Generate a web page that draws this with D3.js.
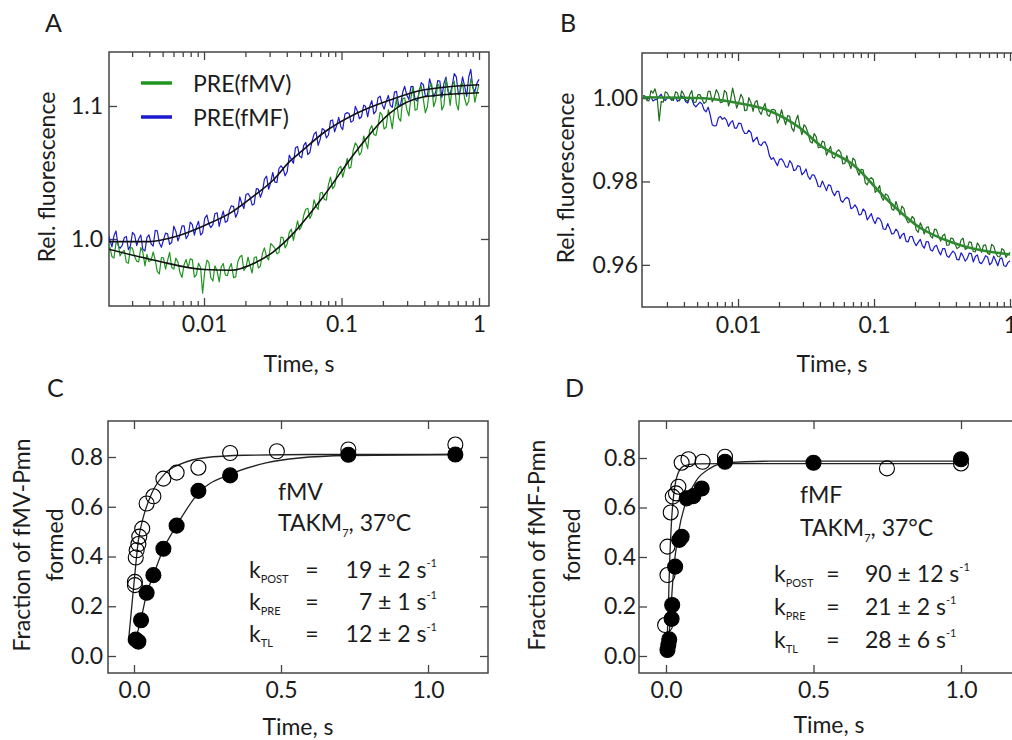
<!DOCTYPE html>
<html>
<head>
<meta charset="utf-8">
<script src="https://cdnjs.cloudflare.com/ajax/libs/d3/7.8.5/d3.min.js"></script>
<style>
  body { margin: 0; background: #fff; }
  svg { font-family: Lato, "Open Sans", sans-serif; }
  .axis path.domain { display: none; }
  .axis line { stroke: #444; stroke-width: 1.3; }
  .axis text { font-family: Lato, "Open Sans", sans-serif; font-size: 23px; fill: #1c1c1c; }
  .lbl { font-size: 23px; fill: #1c1c1c; }
</style>
</head>
<body>
<div id="fig"></div>
<script>
// sampling times of the stopped-flow traces, s (panels A and B)
let traceTimes = [
  0.0020, 0.002065, 0.00214, 0.002213, 0.00229, 0.002371, 0.00245, 0.002541, 0.00263, 0.002723,
  0.00282, 0.002917, 0.00302, 0.003126, 0.00324, 0.00335, 0.00347, 0.003589, 0.00372, 0.003846,
  0.00398, 0.004121, 0.00427, 0.004416, 0.00457, 0.004732, 0.0049, 0.00507, 0.00525, 0.005433,
  0.00562, 0.005821, 0.00603, 0.006237, 0.00646, 0.006683, 0.00692, 0.007161, 0.00741, 0.007674,
  0.00794, 0.008222, 0.00851, 0.00881, 0.00912, 0.009441, 0.00977, 0.01012, 0.0105, 0.01084,
  0.0112, 0.01161, 0.0120, 0.01245, 0.0129, 0.01334, 0.0138, 0.01429, 0.0148, 0.01531,
  0.0158, 0.01641, 0.0170, 0.01758, 0.0182, 0.01884, 0.0195, 0.02018, 0.0209, 0.02163,
  0.0224, 0.02317, 0.0240, 0.02483, 0.0257, 0.02661, 0.0275, 0.02851, 0.0295, 0.03055,
  0.0316, 0.03273, 0.0339, 0.03508, 0.0363, 0.03758, 0.0389, 0.04027, 0.0417, 0.04315,
  0.0447, 0.04624, 0.0479, 0.04955, 0.0513, 0.05309, 0.0550, 0.05689, 0.0589, 0.06095,
  0.0631, 0.06531, 0.0676, 0.06998, 0.0724, 0.07499, 0.0776, 0.08035, 0.0832, 0.0861,
  0.0891, 0.09226, 0.0955, 0.09886, 0.102, 0.1059, 0.110, 0.1135, 0.117, 0.1216,
  0.126, 0.1303, 0.135, 0.1396, 0.145, 0.1496, 0.155, 0.1603, 0.166, 0.1718,
  0.178, 0.1841, 0.191, 0.1972, 0.204, 0.2113, 0.219, 0.2265, 0.234, 0.2427,
  0.251, 0.260, 0.269, 0.2786, 0.288, 0.2985, 0.309, 0.3199, 0.331, 0.3428,
  0.355, 0.3673, 0.380, 0.3936, 0.407, 0.4217, 0.437, 0.4519, 0.468, 0.4842,
  0.501, 0.5188, 0.537, 0.5559, 0.575, 0.5957, 0.617, 0.6383, 0.661, 0.6839,
  0.708, 0.7328, 0.759, 0.7852, 0.813, 0.8414, 0.871, 0.9016, 0.933, 0.9661,
  1.0
];

// A: PRE(fMV), green
let greenA = [
  0.9965, 0.9938, 0.9868, 0.9856, 0.9970, 0.9971, 0.9873, 0.9901, 0.9915, 0.9825,
  0.9818, 0.9937, 0.9930, 0.9868, 0.9833, 0.9828, 0.9935, 0.9902, 0.9798, 0.9884,
  0.9830, 0.9838, 0.9902, 0.9843, 0.9756, 0.9738, 0.9860, 0.9859, 0.9774, 0.9837,
  0.9899, 0.9787, 0.9773, 0.9856, 0.9827, 0.9748, 0.9711, 0.9806, 0.9845, 0.9785,
  0.9850, 0.9845, 0.9713, 0.9731, 0.9818, 0.9785, 0.9592, 0.9757, 0.9840, 0.9824,
  0.9709, 0.9684, 0.9798, 0.9759, 0.9677, 0.9789, 0.9816, 0.9729, 0.9725, 0.9784,
  0.9815, 0.9709, 0.9715, 0.9825, 0.9864, 0.9877, 0.9764, 0.9786, 0.9864, 0.9797,
  0.9744, 0.9861, 0.9866, 0.9782, 0.9795, 0.9892, 0.9933, 0.9867, 0.9842, 0.9966,
  0.9950, 0.9931, 0.9888, 0.9898, 1.0015, 1.0010, 0.9933, 0.9962, 1.0050, 1.0074,
  0.9989, 1.0063, 1.0137, 1.0069, 1.0096, 1.0178, 1.0224, 1.0231, 1.0153, 1.0188,
  1.0295, 1.0247, 1.0222, 1.0346, 1.0350, 1.0297, 1.0292, 1.0409, 1.0465, 1.0378,
  1.0398, 1.0483, 1.0531, 1.0546, 1.0464, 1.0529, 1.0606, 1.0531, 1.0539, 1.0667,
  1.0722, 1.0700, 1.0630, 1.0654, 1.0774, 1.0733, 1.0679, 1.0820, 1.0853, 1.0786,
  1.0778, 1.0848, 1.0953, 1.0932, 1.0827, 1.0840, 1.0972, 1.0913, 1.0830, 1.0971,
  1.1051, 1.0909, 1.0886, 1.1054, 1.1061, 1.0974, 1.0926, 1.1064, 1.1141, 1.0969,
  1.0976, 1.1124, 1.1151, 1.1050, 1.0949, 1.0996, 1.1142, 1.1169, 1.0995, 1.1041,
  1.1167, 1.1139, 1.0970, 1.1006, 1.1202, 1.1123, 1.1004, 1.1146, 1.1187, 1.1018,
  1.0969, 1.1160, 1.1171, 1.1058, 1.1004, 1.1035, 1.1206, 1.1157, 1.1028, 1.1104,
  1.1160
];
// A: PRE(fMF), blue
let blueA = [
  1.0040, 0.9996, 0.9940, 1.0024, 1.0060, 0.9953, 0.9930, 0.9952, 1.0010, 1.0019,
  0.9920, 0.9949, 1.0050, 1.0030, 0.9950, 1.0002, 1.0030, 0.9922, 0.9910, 1.0012,
  1.0030, 0.9964, 0.9946, 1.0064, 1.0062, 0.9970, 0.9938, 0.9991, 1.0044, 1.0038,
  0.9960, 0.9974, 1.0096, 1.0059, 0.9985, 1.0030, 1.0099, 1.0099, 1.0002, 1.0028,
  1.0126, 1.0108, 1.0029, 1.0093, 1.0133, 1.0030, 1.0046, 1.0155, 1.0180, 1.0115,
  1.0085, 1.0108, 1.0190, 1.0197, 1.0095, 1.0159, 1.0210, 1.0125, 1.0135, 1.0217,
  1.0250, 1.0243, 1.0163, 1.0198, 1.0316, 1.0267, 1.0229, 1.0334, 1.0342, 1.0317,
  1.0255, 1.0263, 1.0378, 1.0376, 1.0313, 1.0357, 1.0449, 1.0472, 1.0374, 1.0425,
  1.0500, 1.0427, 1.0425, 1.0530, 1.0550, 1.0531, 1.0475, 1.0505, 1.0630, 1.0600,
  1.0569, 1.0686, 1.0695, 1.0623, 1.0610, 1.0704, 1.0726, 1.0635, 1.0652, 1.0732,
  1.0788, 1.0806, 1.0704, 1.0749, 1.0830, 1.0819, 1.0760, 1.0782, 1.0888, 1.0895,
  1.0806, 1.0854, 1.0914, 1.0844, 1.0822, 1.0940, 1.0950, 1.0944, 1.0878, 1.0890,
  1.0997, 1.0963, 1.0904, 1.0919, 1.1006, 1.0998, 1.0918, 1.0997, 1.1040, 1.0941,
  1.0962, 1.1060, 1.1074, 1.1014, 1.0977, 1.1034, 1.1079, 1.1005, 1.0990, 1.1104,
  1.1110, 1.1006, 1.1009, 1.1103, 1.1148, 1.1080, 1.1048, 1.1146, 1.1147, 1.1050,
  1.1037, 1.1107, 1.1176, 1.1160, 1.1072, 1.1079, 1.1205, 1.1149, 1.1068, 1.1106,
  1.1191, 1.1188, 1.1064, 1.1171, 1.1217, 1.1106, 1.1090, 1.1155, 1.1243, 1.1219,
  1.1086, 1.1117, 1.1219, 1.1152, 1.1072, 1.1216, 1.1275, 1.1138, 1.1108, 1.1172,
  1.1200
];
let fitGreenA = [[0.002, 0.9925], [0.00437, 0.984], [0.01, 0.977], [0.0158, 0.9765], [0.0234, 0.982],
  [0.0316, 0.990], [0.0417, 1.001], [0.0733, 1.0316], [0.13, 1.067], [0.225, 1.0947], [0.392, 1.1068], [1.0, 1.110]];
let fitBlueA = [[0.002, 0.998], [0.004, 0.998], [0.0063, 1.002], [0.01, 1.010], [0.0158, 1.020], [0.0234, 1.033],
  [0.0316, 1.044], [0.0422, 1.0585], [0.0513, 1.066], [0.0733, 1.0795], [0.13, 1.0947], [0.225, 1.1045],
  [0.392, 1.112], [1.0, 1.116]];

// B: green and blue traces
let greenB = [
  1.0006, 1.0005, 0.9994, 0.9993, 1.0018, 1.0012, 1.0022, 1.0003, 0.9945, 0.9992,
  0.9990, 1.0015, 1.0012, 1.0001, 0.9996, 0.9994, 1.0015, 1.0012, 0.9993, 1.0017,
  1.0010, 0.9995, 0.9992, 1.0008, 1.0018, 0.9989, 0.9990, 1.0008, 1.0008, 0.9998,
  0.9987, 0.9991, 1.0016, 1.0016, 0.9991, 1.0001, 1.0020, 1.0011, 0.9989, 0.9990,
  1.0018, 1.0013, 0.9981, 0.9995, 1.0024, 1.0002, 0.9976, 0.9990, 1.0009, 1.0000,
  0.9970, 0.9971, 1.0001, 0.9989, 0.9968, 0.9990, 0.9994, 0.9969, 0.9961, 0.9977,
  0.9987, 0.9960, 0.9956, 0.9972, 0.9973, 0.9970, 0.9940, 0.9950, 0.9972, 0.9952,
  0.9936, 0.9958, 0.9956, 0.9928, 0.9920, 0.9946, 0.9959, 0.9931, 0.9912, 0.9936,
  0.9930, 0.9916, 0.9896, 0.9892, 0.9915, 0.9907, 0.9881, 0.9882, 0.9897, 0.9894,
  0.9863, 0.9874, 0.9884, 0.9858, 0.9856, 0.9871, 0.9876, 0.9870, 0.9842, 0.9843,
  0.9862, 0.9844, 0.9831, 0.9856, 0.9851, 0.9827, 0.9815, 0.9829, 0.9828, 0.9797,
  0.9792, 0.9805, 0.9809, 0.9804, 0.9774, 0.9780, 0.9790, 0.9762, 0.9755, 0.9770,
  0.9767, 0.9757, 0.9734, 0.9731, 0.9752, 0.9738, 0.9720, 0.9741, 0.9735, 0.9711,
  0.9701, 0.9704, 0.9716, 0.9711, 0.9684, 0.9678, 0.9701, 0.9690, 0.9674, 0.9690,
  0.9691, 0.9669, 0.9664, 0.9686, 0.9684, 0.9668, 0.9657, 0.9670, 0.9674, 0.9647,
  0.9647, 0.9664, 0.9663, 0.9651, 0.9639, 0.9642, 0.9660, 0.9664, 0.9637, 0.9640,
  0.9655, 0.9654, 0.9632, 0.9631, 0.9653, 0.9645, 0.9630, 0.9647, 0.9648, 0.9628,
  0.9625, 0.9649, 0.9645, 0.9628, 0.9620, 0.9619, 0.9639, 0.9635, 0.9618, 0.9626,
  0.9630
];
let blueB = [
  1.0003, 1.0001, 0.9997, 1.0003, 1.0002, 0.9993, 0.9996, 0.9997, 1.0004, 1.0009,
  0.9998, 0.9994, 1.0001, 1.0003, 0.9995, 1.0000, 1.0002, 0.9992, 0.9996, 1.0005,
  1.0002, 0.9991, 0.9988, 1.0002, 0.9998, 0.9984, 0.9979, 0.9985, 0.9990, 0.9986,
  0.9972, 0.9967, 0.9978, 0.9960, 0.9936, 0.9933, 0.9934, 0.9952, 0.9956, 0.9949,
  0.9953, 0.9947, 0.9932, 0.9941, 0.9946, 0.9928, 0.9928, 0.9940, 0.9939, 0.9924,
  0.9915, 0.9915, 0.9923, 0.9917, 0.9895, 0.9901, 0.9906, 0.9889, 0.9886, 0.9894,
  0.9895, 0.9884, 0.9862, 0.9853, 0.9857, 0.9847, 0.9838, 0.9853, 0.9854, 0.9847,
  0.9835, 0.9834, 0.9850, 0.9843, 0.9826, 0.9828, 0.9838, 0.9836, 0.9816, 0.9821,
  0.9830, 0.9812, 0.9805, 0.9816, 0.9815, 0.9804, 0.9788, 0.9787, 0.9801, 0.9790,
  0.9778, 0.9792, 0.9790, 0.9774, 0.9766, 0.9776, 0.9776, 0.9755, 0.9750, 0.9758,
  0.9762, 0.9758, 0.9735, 0.9737, 0.9744, 0.9736, 0.9720, 0.9721, 0.9734, 0.9728,
  0.9708, 0.9715, 0.9723, 0.9707, 0.9699, 0.9713, 0.9711, 0.9703, 0.9686, 0.9685,
  0.9699, 0.9688, 0.9674, 0.9675, 0.9686, 0.9680, 0.9663, 0.9672, 0.9676, 0.9657,
  0.9655, 0.9668, 0.9668, 0.9655, 0.9646, 0.9654, 0.9661, 0.9646, 0.9640, 0.9656,
  0.9655, 0.9636, 0.9633, 0.9644, 0.9647, 0.9633, 0.9624, 0.9639, 0.9639, 0.9622,
  0.9618, 0.9626, 0.9633, 0.9628, 0.9613, 0.9612, 0.9629, 0.9621, 0.9609, 0.9615,
  0.9628, 0.9627, 0.9607, 0.9620, 0.9624, 0.9606, 0.9603, 0.9611, 0.9622, 0.9619,
  0.9600, 0.9605, 0.9621, 0.9610, 0.9598, 0.9614, 0.9617, 0.9598, 0.9596, 0.9606,
  0.9610
];
let fitGreenB = [[0.002, 1.0002], [0.0052, 1.0], [0.01, 0.9988], [0.0162, 0.9972], [0.0286, 0.9928],
  [0.04, 0.9887], [0.0702, 0.984], [0.125, 0.9756], [0.218, 0.9689], [0.381, 0.9653], [1.0, 0.9625]];

// C: fMV, open = POST, filled = PRE
let postC = [[0.003, 0.298], [0.003, 0.285], [0.006, 0.396], [0.009, 0.425], [0.015, 0.45], [0.018, 0.48],
  [0.028, 0.512], [0.043, 0.613], [0.066, 0.642], [0.1, 0.713], [0.145, 0.737], [0.219, 0.757],
  [0.327, 0.816], [0.486, 0.823], [0.729, 0.83], [1.093, 0.85]];
let preC = [[0.006, 0.066], [0.015, 0.058], [0.024, 0.144], [0.043, 0.254], [0.066, 0.325], [0.1, 0.431],
  [0.145, 0.524], [0.219, 0.664], [0.327, 0.726], [0.729, 0.809], [1.093, 0.81]];
let fitPostC = [[-0.019, 0.057], [0.001, 0.305], [0.015, 0.466], [0.032, 0.559], [0.06, 0.653], [0.105, 0.733],
  [0.162, 0.773], [0.241, 0.797], [0.378, 0.807], [0.6, 0.81], [1.093, 0.81]];
let fitPreC = [[-0.019, 0.057], [0.01, 0.09], [0.024, 0.15], [0.043, 0.25], [0.066, 0.325], [0.1, 0.43],
  [0.145, 0.525], [0.219, 0.655], [0.327, 0.73], [0.449, 0.776], [0.562, 0.796], [0.729, 0.806], [1.093, 0.81]];

// D: fMF
let postD = [[-0.003, 0.125], [0.005, 0.327], [0.005, 0.442], [0.016, 0.58], [0.023, 0.644], [0.034, 0.657],
  [0.042, 0.684], [0.053, 0.781], [0.076, 0.795], [0.124, 0.785], [0.2, 0.805], [0.749, 0.758], [1.0, 0.778]];
let preD = [[0.005, 0.024], [0.008, 0.045], [0.011, 0.067], [0.019, 0.15], [0.021, 0.206], [0.031, 0.361],
  [0.045, 0.469], [0.053, 0.482], [0.07, 0.637], [0.093, 0.646], [0.121, 0.677], [0.2, 0.785],
  [0.5, 0.781], [1.0, 0.795]];
let fitPostD = [[0.002, 0.01], [0.008, 0.2], [0.013, 0.4], [0.019, 0.55], [0.027, 0.66], [0.04, 0.735],
  [0.06, 0.767], [0.1, 0.776], [0.2, 0.777], [1.0, 0.777]];
let fitPreD = [[0.006, 0.01], [0.015, 0.16], [0.025, 0.334], [0.042, 0.496], [0.07, 0.63], [0.104, 0.711],
  [0.149, 0.758], [0.206, 0.781], [0.35, 0.787], [1.0, 0.787]];

let logMajor = [0.01, 0.1, 1];
let logMinor = [0.003, 0.004, 0.005, 0.006, 0.007, 0.008, 0.009, 0.02, 0.03, 0.04, 0.05, 0.06, 0.07, 0.08, 0.09,
  0.2, 0.3, 0.4, 0.5, 0.6, 0.7, 0.8, 0.9];
let timeTicks = [0, 0.5, 1.0];
let fracTicks = [0, 0.2, 0.4, 0.6, 0.8];

let svg = d3.select("#fig").append("svg").attr("width", 1012).attr("height", 740);

function panel(o) {
  let g = svg.append("g").attr("transform", "translate(" + o.left + "," + o.top + ")");
  let x = o.x.range([0, o.w]);
  let y = o.y.range([o.h, 0]);

  g.append("clipPath").attr("id", o.id).append("rect").attr("width", o.w).attr("height", o.h);

  g.append("g").attr("class", "axis").attr("transform", "translate(0," + o.h + ")")
    .call(d3.axisBottom(x).tickValues(o.xTicks).tickFormat(o.xFmt).tickSizeInner(-8).tickSizeOuter(0).tickPadding(o.xPad));
  g.append("g").attr("class", "axis")
    .call(d3.axisTop(x).tickValues(o.xTicks).tickFormat("").tickSizeInner(-8).tickSizeOuter(0));
  if (o.xMinor) {
    g.append("g").attr("class", "axis").attr("transform", "translate(0," + o.h + ")")
      .call(d3.axisBottom(x).tickValues(o.xMinor).tickFormat("").tickSizeInner(-5).tickSizeOuter(0));
    g.append("g").attr("class", "axis")
      .call(d3.axisTop(x).tickValues(o.xMinor).tickFormat("").tickSizeInner(-5).tickSizeOuter(0));
  }
  g.append("g").attr("class", "axis")
    .call(d3.axisLeft(y).tickValues(o.yTicks).tickFormat(o.yFmt).tickSizeInner(-8).tickSizeOuter(0).tickPadding(o.yPad));
  g.append("g").attr("class", "axis").attr("transform", "translate(" + o.w + ",0)")
    .call(d3.axisRight(y).tickValues(o.yTicks).tickFormat("").tickSizeInner(-8).tickSizeOuter(0));

  g.append("rect").attr("width", o.w).attr("height", o.h)
    .attr("fill", "none").attr("stroke", "#444").attr("stroke-width", 1.5);

  let plot = g.append("g").attr("clip-path", "url(#" + o.id + ")");
  return { g: g, plot: plot, x: x, y: y };
}

function drawLine(p, data, color, width, curve) {
  let line = d3.line()
    .x(function (d) { return p.x(d[0]); })
    .y(function (d) { return p.y(d[1]); });
  if (curve) line.curve(curve);
  p.plot.append("path").datum(data)
    .attr("fill", "none").attr("stroke", color).attr("stroke-width", width)
    .attr("stroke-linejoin", "round").attr("d", line);
}

function trace(vals) {
  return traceTimes.map(function (t, i) { return [t, vals[i]]; });
}

function dots(p, data, filled) {
  p.plot.selectAll(null).data(data).enter().append("circle")
    .attr("cx", function (d) { return p.x(d[0]); })
    .attr("cy", function (d) { return p.y(d[1]); })
    .attr("r", 7.5)
    .attr("fill", filled ? "#000" : "none")
    .attr("stroke", "#000").attr("stroke-width", 1.1);
}

function text(x, y, s, anchor, rot) {
  let t = svg.append("text").attr("class", "lbl").attr("text-anchor", anchor || "start").text(s);
  if (rot) t.attr("transform", "translate(" + x + "," + y + ") rotate(-90)");
  else t.attr("x", x).attr("y", y);
  return t;
}

// ---- A ----
let pA = panel({
  id: "cA", left: 109, top: 52, w: 380, h: 254,
  x: d3.scaleLog().domain([0.002037, 1.182]), y: d3.scaleLinear().domain([0.9496, 1.1406]),
  xTicks: logMajor, xMinor: logMinor, xFmt: d3.format("~g"), xPad: 10,
  yTicks: [1.0, 1.1], yFmt: d3.format(".1f"), yPad: 6
});
drawLine(pA, trace(blueA), "#1a1acc", 1.2);
drawLine(pA, trace(greenA), "#1f951f", 1.2);
drawLine(pA, fitBlueA, "#111", 1.6, d3.curveMonotoneX);
drawLine(pA, fitGreenA, "#111", 1.6, d3.curveMonotoneX);

svg.append("line").attr("x1", 141).attr("x2", 172).attr("y1", 83).attr("y2", 83)
  .attr("stroke", "#1f951f").attr("stroke-width", 3.5);
svg.append("line").attr("x1", 141).attr("x2", 172).attr("y1", 117).attr("y2", 117)
  .attr("stroke", "#1a1acc").attr("stroke-width", 3.5);
text(193, 92, "PRE(fMV)");
text(193, 126, "PRE(fMF)");

text(45, 32, "A").style("font-size", "25px");
text(299, 372, "Time, s", "middle");
text(55, 177, "Rel. fluorescence", "middle", true);

// ---- B ----
let pB = panel({
  id: "cB", left: 642, top: 53, w: 378, h: 254,
  x: d3.scaleLog().domain([0.001967, 1.184]), y: d3.scaleLinear().domain([0.9499, 1.0108]),
  xTicks: logMajor, xMinor: logMinor, xFmt: d3.format("~g"), xPad: 10,
  yTicks: [0.96, 0.98, 1.0], yFmt: d3.format(".2f"), yPad: 4
});
drawLine(pB, trace(blueB), "#1a1acc", 1.2);
drawLine(pB, trace(greenB), "#1c6a1c", 1.2);
drawLine(pB, fitGreenB, "#2f8a2f", 2.6, d3.curveMonotoneX);

text(560, 32, "B").style("font-size", "25px");
text(832, 372, "Time, s", "middle");
text(574, 178, "Rel. fluorescence", "middle", true);

// ---- C ----
let pC = panel({
  id: "cC", left: 108, top: 421, w: 380, h: 252,
  x: d3.scaleLinear().domain([-0.0884, 1.204]), y: d3.scaleLinear().domain([-0.0683, 0.9447]),
  xTicks: timeTicks, xFmt: d3.format(".1f"), xPad: 9,
  yTicks: fracTicks, yFmt: d3.format(".1f"), yPad: 5
});
drawLine(pC, fitPostC, "#222", 1.3, d3.curveMonotoneX);
drawLine(pC, fitPreC, "#222", 1.3, d3.curveMonotoneX);
dots(pC, postC, false);
dots(pC, preC, true);

text(47, 397, "C").style("font-size", "25px");
text(298, 735, "Time, s", "middle");
text(30, 545, "Fraction of fMV-Pmn", "middle", true);
text(63, 545, "formed", "middle", true);

// ---- D ----
let pD = panel({
  id: "cD", left: 639, top: 421, w: 381, h: 252,
  x: d3.scaleLinear().domain([-0.0915, 1.2]), y: d3.scaleLinear().domain([-0.0687, 0.9495]),
  xTicks: timeTicks, xFmt: d3.format(".1f"), xPad: 9,
  yTicks: fracTicks, yFmt: d3.format(".1f"), yPad: 3
});
drawLine(pD, fitPostD, "#222", 1.3, d3.curveMonotoneX);
drawLine(pD, fitPreD, "#222", 1.3, d3.curveMonotoneX);
dots(pD, postD, false);
dots(pD, preD, true);

text(565, 397, "D").style("font-size", "25px");
text(829, 733, "Time, s", "middle");
text(545, 545, "Fraction of fMF-Pmn", "middle", true);
text(580, 545, "formed", "middle", true);

// ---- rate constants ----
function condition(x, y1, y2, name) {
  text(x, y1, name);
  let t = text(x, y2, "TAKM");
  t.append("tspan").attr("font-size", 11).attr("dy", 6).text("7");
  t.append("tspan").attr("dy", -6).text(", 37°C");
}

function rates(kx, eqx, vx, anchor, ys, rows) {
  rows.forEach(function (r, i) {
    let k = text(kx, ys[i], "k");
    k.append("tspan").attr("font-size", 11).attr("dy", 5).text(r[0]);
    text(eqx, ys[i], "=", "middle");
    let v = text(vx, ys[i], r[1], anchor);
    v.append("tspan").attr("font-size", 11).attr("dy", -11).text("-1");
  });
}

condition(278, 500, 531, "fMV");
rates(249, 312, 437, "end", [578, 610, 642],
  [["POST", "19 ± 2 s"], ["PRE", "7 ± 1 s"], ["TL", "12 ± 2 s"]]);

condition(800, 503, 536, "fMF");
rates(774, 833, 865, "start", [582, 615, 648],
  [["POST", "90 ± 12 s"], ["PRE", "21 ± 2 s"], ["TL", "28 ± 6 s"]]);
</script>
</body>
</html>
